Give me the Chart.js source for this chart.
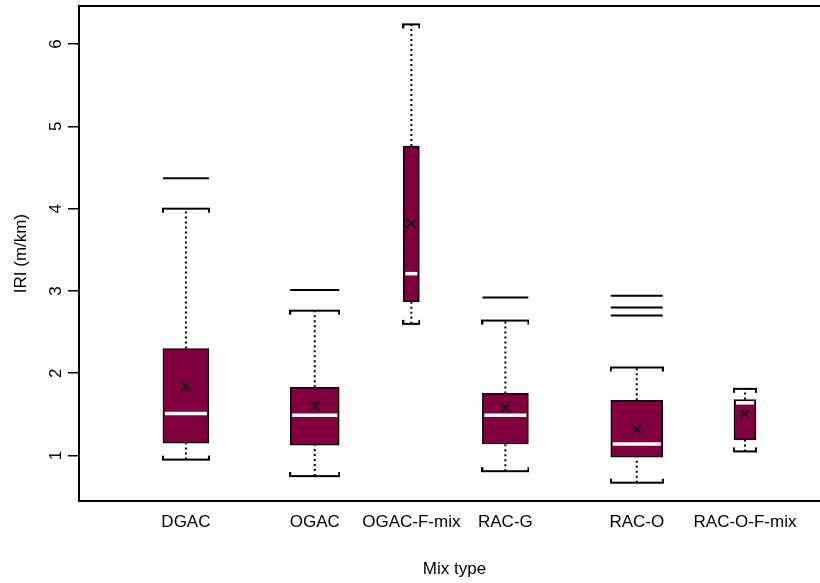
<!DOCTYPE html>
<html>
<head>
<meta charset="utf-8">
<script src="https://cdn.jsdelivr.net/npm/chart.js@4"></script>
<style>
html, body { margin: 0; padding: 0; overflow: hidden; background: #fff; }
#wrap { width: 830px; height: 583px; }
</style>
</head>
<body>
<div id="wrap"><canvas id="boxChart"></canvas></div>
<script>
// data
var mixTypes = ['DGAC', 'OGAC', 'OGAC-F-mix', 'RAC-G', 'RAC-O', 'RAC-O-F-mix'];
var mixAt = [1, 2, 2.75, 3.48, 4.5, 5.34];
var lowerWhisker = [0.95, 0.75, 2.60, 0.81, 0.67, 1.05];
var q1 = [1.15, 1.125, 2.87, 1.14, 0.98, 1.19];
var medians = [1.51, 1.49, 3.21, 1.49, 1.14, 1.64];
var q3 = [2.30, 1.83, 4.76, 1.755, 1.67, 1.68];
var upperWhisker = [4.00, 2.76, 6.24, 2.64, 2.07, 1.81];
var means = [1.84, 1.60, 3.82, 1.58, 1.32, 1.51];
var outliers = [[4.37], [3.01], [], [2.92], [2.94, 2.80, 2.70], []];
var yTicks = [1, 2, 3, 4, 5, 6];

// box widths in px (varwidth look)
var boxWidths = [46, 49, 16, 46, 52, 22];
var boxFill = '#80003f';
var font = { family: 'Liberation Sans, Arial, sans-serif', size: 17 };

function capImage(w, up) {
    var c = document.createElement('canvas');
    c.width = w + 2;
    c.height = 10;
    var g = c.getContext('2d');
    g.strokeStyle = '#000';
    g.lineWidth = 2;
    var tip = up ? 9 : 1;
    g.beginPath();
    g.moveTo(1, tip);
    g.lineTo(1, 5);
    g.lineTo(w + 1, 5);
    g.lineTo(w + 1, tip);
    g.stroke();
    return c;
}

var whiskerPts = [];
mixTypes.forEach(function (name, i) {
    whiskerPts.push({ x: mixAt[i], y: lowerWhisker[i] }, { x: mixAt[i], y: q1[i] }, { x: mixAt[i], y: null });
    whiskerPts.push({ x: mixAt[i], y: q3[i] }, { x: mixAt[i], y: upperWhisker[i] }, { x: mixAt[i], y: null });
});

var outlierPts = [], outlierRadius = [];
outliers.forEach(function (vals, i) {
    vals.forEach(function (v) {
        outlierPts.push({ x: mixAt[i], y: v });
        outlierRadius.push(boxWidths[i] / 2);
    });
});

var boxes = mixTypes.map(function (name, i) {
    return {
        type: 'bar',
        label: name,
        data: [{ x: mixAt[i], y: [q1[i], q3[i]] }],
        backgroundColor: boxFill,
        borderColor: '#000',
        borderWidth: 1.5,
        borderSkipped: false,
        barThickness: boxWidths[i],
        grouped: false,
        order: 4
    };
});

var datasets = [{
    type: 'line',
    label: 'whiskers',
    data: whiskerPts,
    borderColor: '#000',
    borderWidth: 2,
    borderDash: [2, 3],
    pointRadius: 0,
    spanGaps: false,
    order: 5
}].concat(boxes).concat([{
    type: 'scatter',
    label: 'upper caps',
    data: mixAt.map(function (x, i) { return { x: x, y: upperWhisker[i] }; }),
    pointStyle: boxWidths.map(function (w) { return capImage(w, true); }),
    pointRadius: 3,
    order: 3
}, {
    type: 'scatter',
    label: 'lower caps',
    data: mixAt.map(function (x, i) { return { x: x, y: lowerWhisker[i] }; }),
    pointStyle: boxWidths.map(function (w) { return capImage(w, false); }),
    pointRadius: 3,
    order: 3
}, {
    type: 'scatter',
    label: 'outliers',
    data: outlierPts,
    pointStyle: 'line',
    pointRadius: outlierRadius,
    borderColor: '#000',
    pointBorderWidth: 2,
    order: 3
}, {
    type: 'scatter',
    label: 'median',
    data: mixAt.map(function (x, i) { return { x: x, y: medians[i] }; }),
    pointStyle: 'line',
    pointRadius: boxWidths.map(function (w) { return w / 2 - 2; }),
    borderColor: '#fff',
    pointBorderWidth: 3.5,
    order: 2
}, {
    type: 'scatter',
    label: 'mean',
    data: mixAt.map(function (x, i) { return { x: x, y: means[i] }; }),
    pointStyle: 'crossRot',
    pointRadius: 6.5,
    borderColor: '#000',
    pointBorderWidth: 1.3,
    order: 1
}]);

// plot frame like R's box()
var framePlugin = {
    id: 'frame',
    afterDatasetsDraw: function (chart) {
        var a = chart.chartArea, ctx = chart.ctx;
        ctx.save();
        ctx.strokeStyle = '#000';
        ctx.lineWidth = 2;
        ctx.strokeRect(a.left, a.top, a.right - a.left, a.bottom - a.top);
        ctx.restore();
    }
};

var ctx = document.getElementById('boxChart').getContext('2d');
var chart = new Chart(ctx, {
    type: 'bar',
    data: { datasets: datasets },
    plugins: [framePlugin],
    options: {
        responsive: true,
        maintainAspectRatio: false,
        animation: false,
        layout: { autoPadding: false, padding: { top: 6, right: 0, bottom: 0, left: 0 } },
        plugins: { legend: { display: false }, tooltip: { enabled: false } },
        scales: {
            x: {
                type: 'linear',
                min: 0.17,
                max: 6.0,
                offset: false,
                afterBuildTicks: function (s) { s.ticks = mixAt.map(function (v) { return { value: v }; }); },
                afterFit: function (s) { s.height = 82; s.paddingLeft = 0; s.paddingRight = 0; },
                grid: { display: false },
                border: { display: false },
                ticks: {
                    autoSkip: false,
                    maxRotation: 0,
                    padding: 3,
                    color: '#000',
                    font: font,
                    callback: function (v, i) { return mixTypes[i]; }
                },
                title: { display: true, text: 'Mix type', color: '#000', font: font, padding: { top: 0, bottom: 3 } }
            },
            y: {
                type: 'linear',
                min: 0.447,
                max: 6.463,
                afterBuildTicks: function (s) { s.ticks = yTicks.map(function (v) { return { value: v }; }); },
                afterFit: function (s) { s.width = 79; s.paddingTop = 0; s.paddingBottom = 0; },
                grid: { drawOnChartArea: false, drawTicks: true, tickLength: 11, color: '#000', lineWidth: 1.5 },
                border: { display: false },
                ticks: {
                    minRotation: 90,
                    maxRotation: 90,
                    crossAlign: 'center',
                    padding: 7,
                    color: '#000',
                    font: font
                },
                title: { display: true, text: 'IRI (m/km)', color: '#000', font: font, padding: { top: 11, bottom: 0 } }
            }
        }
    }
});
</script>
</body>
</html>
